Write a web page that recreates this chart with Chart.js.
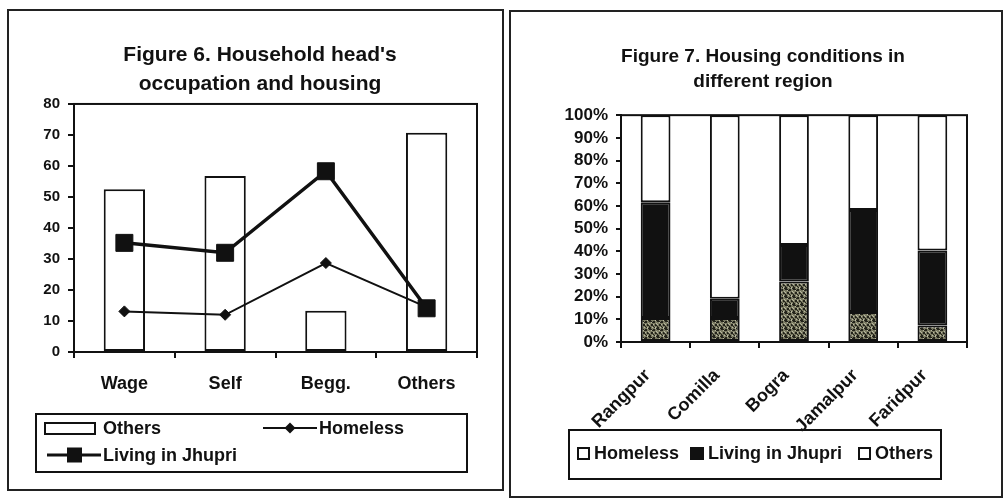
<!DOCTYPE html>
<html>
<head>
<meta charset="utf-8">
<script src="https://cdn.jsdelivr.net/npm/chart.js@4/dist/chart.umd.min.js"></script>
<style>
body { margin:0; width:1004px; height:498px; position:relative; background:#fff; overflow:hidden;
  font-family:"Liberation Sans", Arial, sans-serif; font-weight:bold; color:#111; }
.abs { position:absolute; box-sizing:border-box; }
.panel { border:2px solid #222; }
.txt { font-size:18px; line-height:20px; white-space:nowrap; }
canvas { position:absolute; top:0; }
</style>
</head>
<body>
<div class="abs panel" style="left:7px;top:9px;width:497px;height:482px"></div>
<div class="abs panel" style="left:509px;top:10px;width:494px;height:488px"></div>
<canvas id="fig6" width="505" height="498" style="left:0"></canvas>
<canvas id="fig7" width="499" height="498" style="left:505px"></canvas>

<!-- legend fig 6 -->
<div class="abs" style="left:35px;top:413px;width:433px;height:60px;border:2px solid #111"></div>
<div class="abs" style="left:44px;top:422px;width:52px;height:13px;border:2px solid #111;background:#fff"></div>
<div class="abs txt" style="left:103px;top:418px">Others</div>
<svg class="abs" style="left:263px;top:421px" width="54" height="14">
  <line x1="0" y1="7" x2="54" y2="7" stroke="#111" stroke-width="2"/>
  <polygon points="27,1.5 32.5,7 27,12.5 21.5,7" fill="#111"/>
</svg>
<div class="abs txt" style="left:319px;top:418px">Homeless</div>
<svg class="abs" style="left:47px;top:447px" width="54" height="16">
  <line x1="0" y1="8" x2="54" y2="8" stroke="#111" stroke-width="3"/>
  <rect x="20" y="0.5" width="15" height="15" fill="#111"/>
</svg>
<div class="abs txt" style="left:103px;top:445px">Living in Jhupri</div>

<!-- legend fig 7 -->
<div class="abs" style="left:568px;top:429px;width:374px;height:51px;border:2px solid #111"></div>
<div class="abs" style="left:577px;top:447px;width:13px;height:13px;border:2px solid #111;background:#fff"></div>
<div class="abs txt" style="left:594px;top:443px">Homeless</div>
<div class="abs" style="left:690px;top:447px;width:14px;height:13px;background:#111"></div>
<div class="abs txt" style="left:708px;top:443px">Living in Jhupri</div>
<div class="abs" style="left:858px;top:447px;width:13px;height:13px;border:2px solid #111;background:#fff"></div>
<div class="abs txt" style="left:875px;top:443px">Others</div>

<script>
// Figure 6 data
var occupations = ['Wage', 'Self', 'Begg.', 'Others'];
var occOthers = [52.5, 56.8, 13.3, 70.7];
var occHomeless = [13.1, 12.0, 28.7, 14.5];
var occJhupri = [35.2, 32.0, 58.3, 14.1];

// Figure 7 data (percent of households)
var regions = ['Rangpur', 'Comilla', 'Bogra', 'Jamalpur', 'Faridpur'];
var regHomeless = [10.6, 10.6, 26.7, 13.2, 7.3];
var regJhupri = [51.0, 8.5, 16.1, 45.0, 33.0];
var regOthers = [38.4, 80.9, 57.2, 41.8, 59.7];

var FONT = '"Liberation Sans", Arial, sans-serif';
var INK = '#111';

// box around the plot area
var frame = {
  id: 'frame',
  beforeDatasetsDraw: function(chart) {
    var a = chart.chartArea, ctx = chart.ctx;
    ctx.save();
    ctx.strokeStyle = INK;
    ctx.lineWidth = 2;
    ctx.strokeRect(a.left, a.top, a.right - a.left, a.bottom - a.top);
    ctx.restore();
  }
};

// speckled fill for the homeless segments
function speckle() {
  var c = document.createElement('canvas');
  c.width = 8; c.height = 8;
  var g = c.getContext('2d');
  g.fillStyle = '#7a7a62';
  g.fillRect(0, 0, 8, 8);
  g.fillStyle = '#23231b';
  [[0,0],[1,0],[0,1],[1,1],[2,1],[4,1],[5,2],[4,2],[5,1],[2,4],[3,4],[2,5],[3,5],[6,4],[7,5],[6,5],[0,6],[1,7],[0,7],[4,6],[5,7],[3,2],[7,0]].forEach(function(p) {
    g.fillRect(p[0], p[1], 1, 1);
  });
  g.fillStyle = '#b9b9a2';
  [[6,0],[2,2],[7,3],[0,4],[4,4],[3,7],[6,7]].forEach(function(p) {
    g.fillRect(p[0], p[1], 1, 1);
  });
  return document.getElementById('fig7').getContext('2d').createPattern(c, 'repeat');
}

// ---------------------- Figure 6 ----------------------
new Chart('fig6', {
  type: 'bar',
  data: {
    labels: occupations,
    datasets: [{
      type: 'line',
      label: 'Living in Jhupri',
      data: occJhupri,
      order: 1,
      borderColor: INK,
      backgroundColor: INK,
      borderWidth: 3.5,
      tension: 0,
      pointStyle: 'rect',
      pointRadius: 12,
      pointBorderWidth: 1
    }, {
      type: 'line',
      label: 'Homeless',
      data: occHomeless,
      order: 2,
      borderColor: INK,
      backgroundColor: INK,
      borderWidth: 2,
      tension: 0,
      pointStyle: 'rectRot',
      pointRadius: 5.5,
      pointBorderWidth: 1
    }, {
      label: 'Others',
      data: occOthers,
      order: 3,
      backgroundColor: '#fff',
      borderColor: INK,
      borderWidth: 2,
      borderSkipped: false,
      barPercentage: 0.41,
      categoryPercentage: 1
    }]
  },
  options: {
    responsive: false,
    animation: false,
    layout: { padding: { top: 30, left: 43, right: 28, bottom: 100 } },
    plugins: {
      legend: { display: false },
      tooltip: { enabled: false },
      title: {
        display: true,
        text: ["Figure 6. Household head's", 'occupation and housing'],
        color: INK,
        font: { family: FONT, size: 21, weight: 'bold', lineHeight: 1.38 },
        padding: { top: 10.5, bottom: 5.5 }
      }
    },
    scales: {
      x: {
        afterFit: function(s) { s.height = 46; },
        grid: { offset: true, drawOnChartArea: false, tickLength: 6, color: INK, lineWidth: 2 },
        border: { color: INK, width: 2 },
        ticks: { color: INK, maxRotation: 0, padding: 15, font: { family: FONT, size: 18, weight: 'bold' } }
      },
      y: {
        min: 0,
        max: 80,
        afterFit: function(s) { s.width = 31; },
        grid: { drawOnChartArea: false, tickLength: 6, color: INK, lineWidth: 2 },
        border: { color: INK, width: 2 },
        ticks: { stepSize: 10, color: INK, padding: 8, font: { family: FONT, size: 15, weight: 'bold' } }
      }
    }
  },
  plugins: [frame]
});

// ---------------------- Figure 7 ----------------------
var segStyle = { borderColor: INK, borderWidth: 2, borderSkipped: false, barPercentage: 0.43, categoryPercentage: 1 };

new Chart('fig7', {
  type: 'bar',
  data: {
    labels: regions,
    datasets: [
      Object.assign({ label: 'Homeless', data: regHomeless, backgroundColor: speckle() }, segStyle),
      Object.assign({ label: 'Living in Jhupri', data: regJhupri, backgroundColor: INK }, segStyle),
      Object.assign({ label: 'Others', data: regOthers, backgroundColor: '#fff' }, segStyle)
    ]
  },
  options: {
    responsive: false,
    animation: false,
    layout: { padding: { top: 30, left: 54, right: 37, bottom: 56 } },
    plugins: {
      legend: { display: false },
      tooltip: { enabled: false },
      title: {
        display: true,
        text: ['Figure 7. Housing conditions in', 'different region'],
        color: INK,
        font: { family: FONT, size: 19, weight: 'bold', lineHeight: 1.32 },
        padding: { top: 14.5, bottom: 20.5 }
      }
    },
    scales: {
      x: {
        stacked: true,
        afterFit: function(s) { s.height = 100; },
        grid: { offset: true, drawOnChartArea: false, tickLength: 6, color: INK, lineWidth: 2 },
        border: { color: INK, width: 2 },
        ticks: { color: INK, minRotation: 45, maxRotation: 45, padding: 17, labelOffset: -8, font: { family: FONT, size: 18, weight: 'bold' } }
      },
      y: {
        stacked: true,
        min: 0,
        max: 100,
        afterFit: function(s) { s.width = 62; },
        grid: { drawOnChartArea: false, tickLength: 5, color: INK, lineWidth: 2 },
        border: { color: INK, width: 2 },
        ticks: {
          stepSize: 10,
          autoSkip: false,
          color: INK,
          padding: 8,
          font: { family: FONT, size: 17, weight: 'bold' },
          callback: function(v) { return v + '%'; }
        }
      }
    }
  },
  plugins: [frame]
});
</script>
</body>
</html>
